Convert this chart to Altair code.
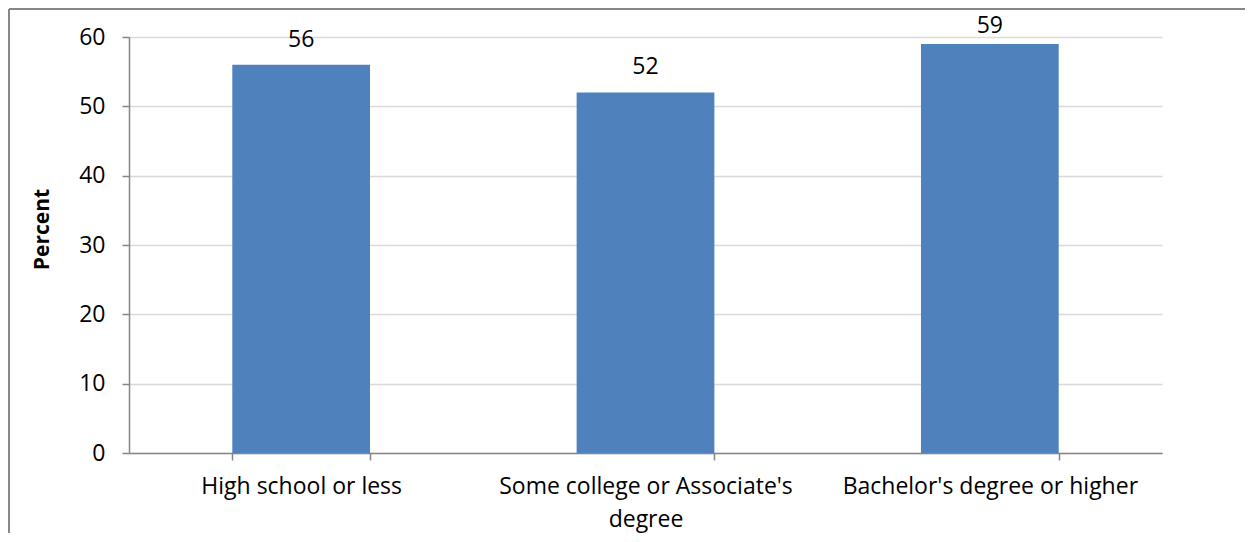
import altair as alt
import pandas as pd

categories = ["High school or less", "Some college or Associate's degree", "Bachelor's degree or higher"]
values = [56, 52, 59]
y_ticks = [0, 10, 20, 30, 40, 50, 60]

df = pd.DataFrame({"category": categories, "value": values})

FONT = "Open Sans"
FS = 23
W, H = 1033, 416
PAD_L, PAD_T = 121, 29

x_enc = alt.X(
    "category:N",
    sort=categories,
    scale=alt.Scale(paddingInner=0.6, paddingOuter=0.3),
    axis=alt.Axis(
        title=None,
        labelAngle=0,
        labelFont=FONT,
        labelFontSize=FS,
        labelColor="#000000",
        labelPadding=15,
        labelLineHeight=33,
        labelLimit=400,
        labelExpr="datum.label == \"Some college or Associate's degree\" ? [\"Some college or Associate's\", 'degree'] : datum.label",
        tickBand="extent",
        tickSize=7,
        tickColor="#868686",
        tickWidth=1.5,
        domainColor="#868686",
        domainWidth=1.5,
        grid=False,
    ),
)

bars = alt.Chart(df).mark_bar(color="#4f81bd").encode(
    x=x_enc,
    y=alt.Y(
        "value:Q",
        scale=alt.Scale(domain=[0, 60], nice=False),
        axis=alt.Axis(
            values=y_ticks,
            title="Percent",
            titleFont=FONT,
            titleFontSize=21,
            titleFontWeight="bold",
            titleColor="#000000",
            titleAngle=270,
            titleX=-87,
            titleY=192,
            titleAlign="center",
            titleBaseline="middle",
            labelFont=FONT,
            labelFontSize=FS,
            labelColor="#000000",
            labelPadding=17,
            tickSize=7,
            tickColor="#868686",
            tickWidth=1.5,
            domainColor="#868686",
            domainWidth=1.5,
            gridColor="#d9d9d9",
            gridWidth=1.5,
        ),
    ),
)

labels = alt.Chart(df).transform_calculate(
    label_pos="min(datum.value, 58)"
).mark_text(
    font=FONT, fontSize=FS, color="#000000", baseline="alphabetic", dy=-18
).encode(
    x=alt.X("category:N", sort=categories),
    y=alt.Y("label_pos:Q"),
    text=alt.Text("value:Q"),
)

frame_top = alt.Chart(df).mark_rule(color="#868686", strokeWidth=1.5, clip=False).encode(
    x=alt.value(-PAD_L + 1), x2=alt.value(W + 200), y=alt.value(-PAD_T + 1)
)
frame_left = alt.Chart(df).mark_rule(color="#868686", strokeWidth=1.5, clip=False).encode(
    x=alt.value(-PAD_L + 1), y=alt.value(-PAD_T + 1), y2=alt.value(H + 200)
)

chart = alt.layer(bars, labels, frame_top, frame_left).properties(
    width=W,
    height=H,
    autosize=alt.AutoSizeParams(type="none"),
    padding={"left": PAD_L, "top": PAD_T, "right": 83, "bottom": 80},
).configure(background="white", view=alt.ViewConfig(stroke=None))

chart.save("out.html", embed_options={"renderer": "svg", "actions": False})
